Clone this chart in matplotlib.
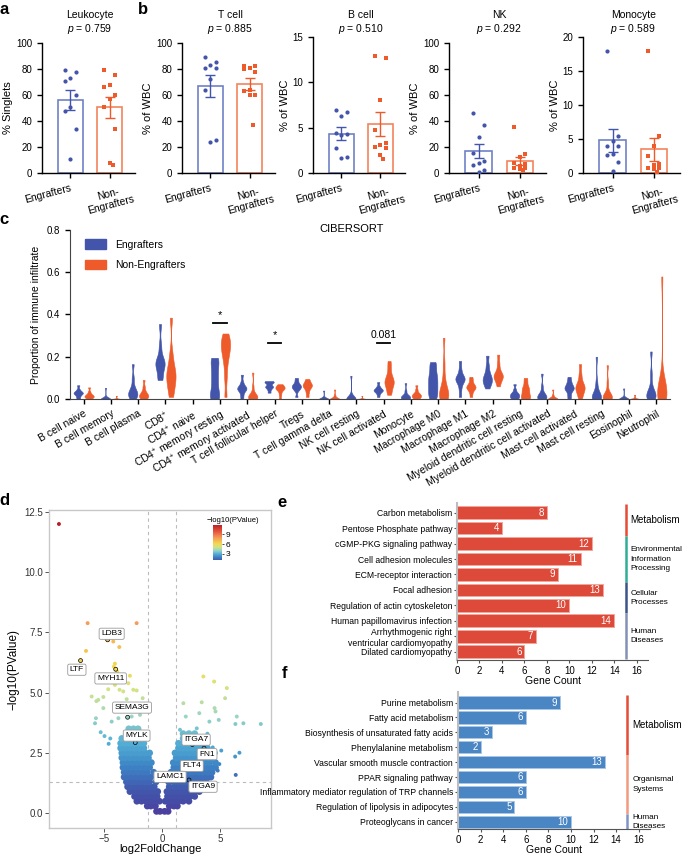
import numpy as np
import matplotlib
matplotlib.use("Agg")
import matplotlib.pyplot as plt
import matplotlib.transforms as mtransforms
from matplotlib.patches import Patch
from matplotlib.colors import LinearSegmentedColormap, Normalize

plt.rcParams['font.family'] = ['Liberation Sans', 'DejaVu Sans']
plt.rcParams['mathtext.fontset'] = 'custom'
plt.rcParams['mathtext.it'] = 'Liberation Sans:italic'
plt.rcParams['mathtext.rm'] = 'Liberation Sans'

BLUE = '#4255AA'
ORANGE = '#EE5A2A'
BLUE_EDGE = '#7181C6'
ORANGE_EDGE = '#F2845E'

# ---------------- a / b : flow cytometry ----------------
groups = ['Engrafters', 'Non-\nEngrafters']
leuko_eng = [79.5, 77.4, 72.8, 71.0, 60.0, 50.8, 47.4, 33.8, 11.0]
leuko_non = [79.5, 75.0, 68.0, 66.0, 60.0, 57.0, 50.5, 34.0, 8.0, 6.5]
tcell_eng = [89.0, 85.0, 83.0, 80.5, 80.5, 72.0, 63.5, 25.5, 23.5]
tcell_non = [82.0, 82.0, 81.0, 80.0, 78.0, 64.0, 63.0, 60.0, 60.0, 37.0]
bcell_eng = [7.0, 6.7, 6.3, 4.4, 4.3, 4.2, 2.8, 1.8, 1.7]
bcell_non = [12.9, 12.7, 8.0, 4.7, 3.3, 3.1, 2.9, 2.8, 2.0, 1.5]
nk_eng = [46.0, 37.0, 28.0, 15.0, 9.0, 7.5, 6.0, 2.5, 0.5]
nk_non = [35.0, 14.5, 12.5, 8.0, 7.0, 5.0, 4.0, 3.5, 3.0, 2.5]
mono_eng = [17.9, 5.4, 4.7, 4.0, 3.9, 2.8, 2.7, 1.6, 0.3]
mono_non = [18.0, 5.5, 3.9, 2.5, 1.3, 1.2, 0.8, 0.7, 0.6, 0.2]
flow_titles = ['Leukocyte', 'T cell', 'B cell', 'NK', 'Monocyte']
flow_pvals = ['0.759', '0.885', '0.510', '0.292', '0.589']
flow_ylabels = ['% Singlets', '% of WBC', '% of WBC', '% of WBC', '% of WBC']
flow_ymax = [100, 100, 15, 100, 20]
flow_ystep = [20, 20, 5, 20, 5]

# ---------------- c : CIBERSORT ----------------
cells = ['B cell naive', 'B cell memory', 'B cell plasma', 'CD8$^{+}$', 'CD4$^{+}$ naive',
         'CD4$^{+}$ memory resting', 'CD4$^{+}$ memory activated', 'T cell follicular helper',
         'Tregs', 'T cell gamma delta', 'NK cell resting', 'NK cell activated', 'Monocyte',
         'Macrophage M0', 'Macrophage M1', 'Macrophage M2', 'Myeloid dendritic cell resting',
         'Myeloid dendritic cell activated', 'Mast cell activated', 'Mast cell resting',
         'Eosinophil', 'Neutrophil']
cib_eng = [
    [0.0, 0.01, 0.02, 0.025, 0.03, 0.03, 0.035, 0.045, 0.065],
    [0.0, 0.0, 0.0, 0.0, 0.005, 0.0, 0.0, 0.01, 0.053],
    [0.0, 0.01, 0.02, 0.025, 0.03, 0.04, 0.06, 0.1, 0.165],
    [0.09, 0.1, 0.14, 0.16, 0.17, 0.175, 0.19, 0.25, 0.355],
    [],
    [0.0, 0.01, 0.03, 0.06, 0.09, 0.12, 0.15, 0.18, 0.195],
    [0.0, 0.02, 0.04, 0.045, 0.05, 0.055, 0.06, 0.08, 0.115],
    [0.03, 0.045, 0.055, 0.06, 0.06, 0.075, 0.08, 0.082, 0.085],
    [0.01, 0.04, 0.05, 0.055, 0.06, 0.065, 0.07, 0.085, 0.1],
    [0.0, 0.0, 0.0, 0.0, 0.0, 0.005, 0.0, 0.01, 0.04],
    [0.0, 0.0, 0.0, 0.0, 0.0, 0.0, 0.005, 0.02, 0.11],
    [0.01, 0.025, 0.035, 0.04, 0.04, 0.045, 0.05, 0.06, 0.08],
    [0.0, 0.0, 0.005, 0.01, 0.01, 0.015, 0.02, 0.04, 0.075],
    [0.0, 0.02, 0.04, 0.06, 0.08, 0.1, 0.12, 0.15, 0.175],
    [0.01, 0.05, 0.08, 0.09, 0.095, 0.1, 0.11, 0.14, 0.18],
    [0.05, 0.07, 0.08, 0.09, 0.1, 0.11, 0.13, 0.16, 0.205],
    [0.0, 0.005, 0.01, 0.015, 0.02, 0.025, 0.03, 0.045, 0.07],
    [0.0, 0.0, 0.005, 0.01, 0.015, 0.02, 0.03, 0.06, 0.12],
    [0.0, 0.02, 0.04, 0.05, 0.05, 0.06, 0.07, 0.085, 0.105],
    [0.0, 0.0, 0.005, 0.01, 0.01, 0.02, 0.04, 0.08, 0.2],
    [0.0, 0.0, 0.0, 0.0, 0.0, 0.0, 0.005, 0.01, 0.05],
    [0.0, 0.01, 0.015, 0.02, 0.02, 0.025, 0.06, 0.12, 0.225],
]
cib_non = [
    [0.0, 0.005, 0.01, 0.01, 0.015, 0.015, 0.02, 0.025, 0.035, 0.055],
    [0.0, 0.0, 0.0, 0.0, 0.0, 0.0, 0.0, 0.0, 0.005, 0.015],
    [0.0, 0.005, 0.01, 0.015, 0.02, 0.02, 0.03, 0.04, 0.06, 0.09],
    [0.01, 0.04, 0.07, 0.09, 0.11, 0.12, 0.14, 0.17, 0.22, 0.385],
    [],
    [0.01, 0.1, 0.16, 0.2, 0.22, 0.24, 0.26, 0.27, 0.29, 0.31],
    [0.0, 0.0, 0.005, 0.01, 0.01, 0.015, 0.02, 0.03, 0.06, 0.125],
    [0.0, 0.02, 0.035, 0.045, 0.05, 0.05, 0.055, 0.06, 0.065, 0.07],
    [0.01, 0.03, 0.045, 0.055, 0.06, 0.065, 0.07, 0.075, 0.085, 0.095],
    [0.0, 0.0, 0.0, 0.0, 0.0, 0.0, 0.005, 0.01, 0.02, 0.045],
    [0.0, 0.0, 0.0, 0.0, 0.0, 0.0, 0.0, 0.0, 0.005, 0.015],
    [0.02, 0.04, 0.06, 0.07, 0.08, 0.09, 0.1, 0.12, 0.15, 0.18],
    [0.0, 0.005, 0.01, 0.015, 0.015, 0.02, 0.025, 0.03, 0.045, 0.065],
    [0.0, 0.005, 0.01, 0.02, 0.03, 0.04, 0.06, 0.1, 0.17, 0.29],
    [0.01, 0.03, 0.045, 0.05, 0.055, 0.06, 0.065, 0.075, 0.09, 0.105],
    [0.06, 0.08, 0.095, 0.1, 0.11, 0.115, 0.12, 0.14, 0.17, 0.21],
    [0.0, 0.005, 0.01, 0.02, 0.03, 0.04, 0.05, 0.06, 0.08, 0.1],
    [0.0, 0.0, 0.0, 0.0, 0.0, 0.005, 0.005, 0.01, 0.02, 0.045],
    [0.0, 0.02, 0.035, 0.045, 0.055, 0.06, 0.07, 0.09, 0.12, 0.165],
    [0.0, 0.0, 0.005, 0.01, 0.01, 0.015, 0.02, 0.04, 0.08, 0.16],
    [0.0, 0.0, 0.0, 0.0, 0.0, 0.0, 0.0, 0.005, 0.01, 0.02],
    [0.0, 0.01, 0.02, 0.025, 0.03, 0.03, 0.035, 0.05, 0.1, 0.58],
]
sig_cells = [5, 7, 11]
sig_level = [0.362, 0.267, 0.267]
sig_text = ['*', '*', '0.081']

# ---------------- d : volcano ----------------
vol_x = [-8.94, -6.46, -2.22, -6.6, -4.24, -3.72, -4.1, -4.19, -3.9, -2.8, -2.94, -4.1,
         -4.68, -3.7, -3.38, -2.51, -2.22, -6.11, -5.54, -5.1, -3.08, -1.7, -5.1, -5.7,
         -5.74, -5.82, -5.33, -4.38, -3.8, -2.65, -1.93, -2.36, -2.07, -4.64, -4.5, -5.0,
         3.55, 4.48, 5.58, 5.43, 3.41, 1.82, 4.52, 4.6, 3.2, 2.03, 6.44, 7.01, 8.52, 6.32,
         4.88, 4.07, 2.98, 1.53, 6.67, 6.3, 6.35, 4.36, 4.93, 4.79, 5.1, 3.9]
vol_y = [11.99, 7.88, 7.88, 6.73, 7.12, 6.89, 6.2, 6.08, 5.88, 5.7, 5.39, 5.32,
         5.14, 5.12, 5.05, 5.12, 5.09, 4.84, 4.7, 4.82, 4.73, 4.77, 4.36, 4.65,
         3.94, 3.73, 3.36, 3.8, 3.94, 4.01, 4.08, 4.29, 3.52, 2.88, 3.1, 3.2,
         5.67, 5.46, 5.19, 4.77, 4.6, 4.56, 4.36, 4.22, 4.15, 4.01, 4.01, 3.73, 3.7, 3.7,
         3.87, 3.8, 3.52, 3.46, 2.51, 2.35, 1.59, 2.73, 2.04, 1.77, 2.6, 3.3]
core_levels = [0.08, 0.3, 0.5, 0.7, 0.9, 1.1, 1.3, 1.5, 1.7, 1.9, 2.1, 2.3, 2.5, 2.7, 2.9, 3.1, 3.3, 3.5]
core_rows = [
    [-0.5, -0.2, 0.2, 0.5],
    [-1.3, -1.0, -0.6, 0.6, 1.0, 1.3],
    [-2.2, -1.8, -1.4, -1.0, -0.6, -0.25, 0.25, 0.6, 1.0, 1.4, 1.8, 2.3],
    [-2.4, -2.0, -1.6, -1.2, -0.8, -0.45, 0.45, 0.8, 1.2, 1.6, 2.0, 2.4, 2.8],
    [-2.8, -2.4, -2.0, -1.6, -1.2, -0.8, -0.4, 0.4, 0.8, 1.2, 1.6, 2.0, 2.4, 2.8, 3.2],
    [-3.0, -2.7, -2.3, -1.9, -1.5, -1.1, -0.7, 0.6, 1.1, 1.5, 1.9, 2.3, 2.7, 3.1, 3.5],
    [-3.1, -2.7, -2.3, -1.9, -1.5, -1.1, -0.55, 0.55, 1.0, 1.4, 1.8, 2.2, 2.6, 3.0, 3.4, 3.8],
    [-3.3, -3.0, -2.6, -2.2, -1.8, -1.4, -1.0, 0.8, 1.2, 1.6, 2.0, 2.4, 2.8, 3.2, 3.6, 4.0, 4.2],
    [-3.3, -2.9, -2.5, -2.1, -1.7, -1.3, -0.75, 0.75, 1.1, 1.5, 1.9, 2.3, 2.7, 3.1, 3.5, 3.9, 4.3],
    [-3.4, -3.1, -2.7, -2.3, -1.9, -1.5, -1.1, 1.0, 1.4, 1.8, 2.2, 2.6, 3.0, 3.4, 3.8, 4.2, 4.6],
    [-3.4, -3.0, -2.6, -2.2, -1.8, -1.35, -0.95, 0.95, 1.3, 1.7, 2.1, 2.5, 2.9, 3.3, 3.7, 4.1, 4.6],
    [-3.5, -3.2, -2.8, -2.4, -2.0, -1.6, -1.2, 1.2, 1.6, 2.0, 2.4, 2.8, 3.2, 3.6, 4.0, 4.4],
    [-3.5, -3.1, -2.7, -2.3, -1.9, -1.5, -1.1, 1.1, 1.5, 1.9, 2.3, 2.7, 3.1, 3.5, 3.9, 4.5],
    [-3.6, -3.2, -2.8, -2.4, -2.0, -1.6, 1.4, 1.8, 2.2, 2.6, 3.0, 3.4, 3.9],
    [-3.6, -3.2, -2.8, -2.4, -2.0, -1.6, 1.4, 1.8, 2.2, 2.6, 3.0, 3.5],
    [-3.5, -3.1, -2.7, -2.3, -1.9, 1.8, 2.2, 2.6, 3.0, 3.4],
    [-3.1, -2.6, -2.1, 1.8, 2.3, 2.8],
    [-2.9, -2.5, -2.1],
]
genes = ['LDB3', 'LTF', 'MYH11', 'SEMA3G', 'MYLK', 'ITGA7', 'FN1', 'FLT4', 'LAMC1', 'ITGA9']
gene_x = [-4.73, -7.07, -4.03, -3.0, -2.34, 2.6, 3.61, 2.2, 1.6, 2.31]
gene_y = [7.19, 6.33, 5.97, 3.98, 2.93, 2.85, 2.7, 1.95, 1.45, 1.38]

# ---------------- e / f : KEGG ----------------
kegg_e_terms = ['Carbon metabolism', 'Pentose Phosphate pathway', 'cGMP-PKG signaling pathway',
                'Cell adhesion molecules', 'ECM-receptor interaction', 'Focal adhesion',
                'Regulation of actin cytoskeleton', 'Human papillomavirus infection',
                'Arrhythmogenic right\nventricular cardiomyopathy', 'Dilated cardiomyopathy']
kegg_e_counts = [8, 4, 12, 11, 9, 13, 10, 14, 7, 6]
kegg_e_classes = ['Metabolism', 'Environmental\nInformation\nProcessing', 'Cellular\nProcesses', 'Human\nDiseases']
kegg_e_sizes = [2, 3, 2, 3]
kegg_f_terms = ['Purine metabolism', 'Fatty acid metabolism', 'Biosynthesis of unsaturated fatty acids',
                'Phenylalanine metabolism', 'Vascular smooth muscle contraction', 'PPAR signaling pathway',
                'Inflammatory mediator regulation of TRP channels', 'Regulation of lipolysis in adipocytes',
                'Proteoglycans in cancer']
kegg_f_counts = [9, 6, 3, 2, 13, 6, 6, 5, 10]
kegg_f_classes = ['Metabolism', 'Organismal\nSystems', 'Human\nDiseases']
kegg_f_sizes = [4, 4, 1]

W, H = 685, 855
fig = plt.figure(figsize=(6.85, 8.55), dpi=100)


def px_axes(x0, y0, x1, y1):
    return fig.add_axes([x0 / W, 1 - y1 / H, (x1 - x0) / W, (y1 - y0) / H])


def fig_text(x, y, s, **kw):
    fig.text(x / W, 1 - y / H, s, **kw)


# ---- a, b
flow_eng = [leuko_eng, tcell_eng, bcell_eng, nk_eng, mono_eng]
flow_non = [leuko_non, tcell_non, bcell_non, nk_non, mono_non]
flow_boxes = [(42, 43, 135, 173), (182, 43, 275, 173), (313, 37, 405, 173),
              (449, 43, 546, 173), (583, 37, 680, 173)]
jitter = [-0.14, 0.14, 0.0, -0.14, 0.14, 0.0, -0.14, 0.14, 0.0, 0.07]

for n in range(5):
    ax = px_axes(*flow_boxes[n])
    for k, (vals, col, ecol, mk) in enumerate([(flow_eng[n], BLUE, BLUE_EDGE, 'o'),
                                               (flow_non[n], ORANGE, ORANGE_EDGE, 's')]):
        v = np.asarray(vals, float)
        m = v.mean()
        se = v.std(ddof=1) / np.sqrt(len(v))
        ax.bar(k, m, width=0.64, facecolor='white', edgecolor=ecol, linewidth=1.2, zorder=1)
        ax.errorbar(k, m, yerr=se, fmt='none', ecolor=col, elinewidth=1.0,
                    capsize=3.5, capthick=1.0, zorder=2)
        ax.scatter(k + np.array(jitter[:len(v)]), v, s=9, marker=mk, color=col,
                   linewidths=0, zorder=3)
    ax.set_xlim(-0.72, 1.64)
    ax.set_ylim(0, flow_ymax[n])
    ax.set_yticks(np.arange(0, flow_ymax[n] + 1, flow_ystep[n]))
    ax.set_xticks([0, 1])
    lbls = ax.set_xticklabels(groups, fontsize=7.5, rotation=15)
    lbls[0].set_ha('right')
    lbls[0].set_rotation_mode('anchor')
    lbls[1].set_ha('center')
    lbls[1].set_multialignment('center')
    ax.tick_params(labelsize=7, width=1, length=3.5)
    ax.tick_params(axis='x', labelsize=7.5)
    ax.set_ylabel(flow_ylabels[n], fontsize=8, labelpad=2)
    for s in ['top', 'right']:
        ax.spines[s].set_visible(False)
    for s in ['left', 'bottom']:
        ax.spines[s].set_linewidth(1)
    tr = mtransforms.blended_transform_factory(ax.transData, fig.transFigure)
    ax.text(0.5, 1 - 15 / H, flow_titles[n], transform=tr, ha='center', va='center', fontsize=7.5)
    ax.text(0.5, 1 - 29 / H, '$p$ = ' + flow_pvals[n], transform=tr, ha='center', va='center', fontsize=7.5)

# ---- c
axc = px_axes(70, 230, 670, 399)
for i in range(len(cells)):
    for vals, off, col in ((cib_eng[i], -0.2, BLUE), (cib_non[i], 0.2, ORANGE)):
        if len(vals) == 0 or np.ptp(vals) == 0:
            continue
        vp = axc.violinplot([vals], positions=[i + off], widths=0.34,
                            showextrema=False, bw_method=0.35)
        for b in vp['bodies']:
            b.set_facecolor(col)
            b.set_edgecolor(col)
            b.set_alpha(1)
            b.set_linewidth(0.4)
for i, lvl, txt in zip(sig_cells, sig_level, sig_text):
    axc.plot([i - 0.25, i + 0.25], [lvl, lvl], color='black', lw=1.3)
    axc.text(i, lvl + 0.012, txt, ha='center', va='bottom', fontsize=8 if txt == '*' else 7.5)
axc.set_xlim(-0.5, len(cells) - 0.5)
axc.set_ylim(0, 0.8)
axc.set_yticks([0, 0.2, 0.4, 0.6, 0.8])
axc.set_yticklabels(['0.0', '0.2', '0.4', '0.6', '0.8'])
axc.set_xticks(range(len(cells)))
axc.set_xticklabels(cells, rotation=30, ha='right', rotation_mode='anchor', fontsize=7.5)
axc.tick_params(labelsize=7, width=1, length=3.5)
axc.tick_params(axis='x', labelsize=7.5)
axc.set_ylabel('Proportion of immune infiltrate', fontsize=7.5, labelpad=4)
for s in ['top', 'right']:
    axc.spines[s].set_visible(False)
for s in ['left', 'bottom']:
    axc.spines[s].set_color('#444444')
axc.legend(handles=[Patch(color=BLUE, label='Engrafters'), Patch(color=ORANGE, label='Non-Engrafters')],
           loc='upper left', bbox_to_anchor=(0.01, 1.0), frameon=False, fontsize=7.5,
           handlelength=2.0, handleheight=1.0, labelspacing=1.0, handletextpad=0.9)
fig_text(352, 229, 'CIBERSORT', ha='center', va='center', fontsize=8)

# ---- d
cmap = LinearSegmentedColormap.from_list('vol', [
    (0.0, '#4B3F9E'), (0.083, '#4158AD'), (0.167, '#3D86C6'), (0.25, '#56B2D6'),
    (0.333, '#9AD4C4'), (0.417, '#CFE38A'), (0.5, '#F2DC52'), (0.583, '#F6BC50'),
    (0.667, '#F49A5A'), (0.833, '#E5533A'), (1.0, '#BA1E2A')])
norm = Normalize(0, 12)
axd = px_axes(49, 510, 271, 828)
core_x = np.concatenate([np.asarray(r, float) for r in core_rows])
core_y = np.concatenate([np.full(len(r), lv) for lv, r in zip(core_levels, core_rows)])
axd.axvline(-1.2, color='#BBBBBB', ls=(0, (3, 3)), lw=0.8, zorder=0)
axd.axvline(1.2, color='#BBBBBB', ls=(0, (3, 3)), lw=0.8, zorder=0)
axd.axhline(-np.log10(0.05), color='#BBBBBB', ls=(0, (3, 3)), lw=0.8, zorder=0)
axd.scatter(core_x, core_y, c=core_y, cmap=cmap, norm=norm, s=24, linewidths=0, zorder=2)
axd.scatter(vol_x, vol_y, c=vol_y, cmap=cmap, norm=norm, s=8, linewidths=0, zorder=3)
axd.scatter(gene_x, gene_y, c=gene_y, cmap=cmap, norm=norm, s=8, edgecolors='black',
            linewidths=0.5, zorder=4)
label_pos = [(-4.38, 7.44), (-7.39, 5.95), (-4.47, 5.59), (-2.62, 4.38), (-2.22, 3.22),
             (2.92, 3.05), (3.87, 2.45), (2.55, 1.96), (0.67, 1.51), (3.52, 1.10)]
for g, (lx, ly) in zip(genes, label_pos):
    axd.text(lx, ly, g, ha='center', va='center', fontsize=6, zorder=5,
             bbox=dict(boxstyle='round,pad=0.25,rounding_size=0.2', fc='white', ec='#9A9A9A', lw=0.6))
axd.set_xlim(-9.8, 9.4)
axd.set_ylim(-0.61, 12.57)
axd.set_xticks([-5, 0, 5])
axd.set_xticklabels(['\u22125', '0', '5'])
axd.set_yticks([0, 2.5, 5, 7.5, 10, 12.5])
axd.set_yticklabels(['0.0', '2.5', '5.0', '7.5', '10.0', '12.5'])
axd.tick_params(labelsize=7, color='#555555', labelcolor='#333333', length=3, width=0.7, pad=1.5)
for s in axd.spines.values():
    s.set_color('#C8C8C8')
    s.set_linewidth(1)
axd.set_xlabel('log2FoldChange', fontsize=8, labelpad=0)
axd.set_ylabel('\u2212log10(PValue)', fontsize=8.5, labelpad=3)
cax = px_axes(213, 525, 222, 560)
cax.imshow(np.linspace(1.05, 11.9, 256)[:, None], cmap=cmap, norm=norm, aspect='auto',
           origin='lower', extent=[0, 1, 1.05, 11.9])
cax.set_xticks([])
cax.yaxis.tick_right()
cax.set_yticks([3, 6, 9])
cax.tick_params(labelsize=6, length=1.5, width=0.5, pad=1)
for s in cax.spines.values():
    s.set_visible(False)
fig_text(207, 520, '\u2212log10(PValue)', ha='left', va='center', fontsize=5.5)


# ---- e, f
def kegg_panel(ax, terms, counts, classes, sizes, bar_col, bar_edge, class_cols, ylim, class_top):
    y = np.arange(len(terms))
    ax.barh(y, counts, height=0.82, color=bar_col, edgecolor=bar_edge, linewidth=0.7)
    for yi, c in zip(y, counts):
        ax.text(c - 0.25, yi, str(c), ha='right', va='center', color='white', fontsize=7)
    ax.set_ylim(*ylim)
    ax.set_xlim(0, 17)
    ax.set_xticks(range(0, 17, 2))
    ax.set_yticks(y)
    ax.set_yticklabels(terms, fontsize=6.2, linespacing=1.3)
    ax.tick_params(axis='x', labelsize=7, length=2.5, width=0.8, color='#555555', pad=1.5)
    ax.tick_params(axis='y', length=2.5, width=0.8, color='#555555', pad=1)
    ax.set_xlabel('Gene Count', fontsize=7.5, labelpad=0)
    for s in ['top', 'right']:
        ax.spines[s].set_visible(False)
    ax.spines['left'].set_color('#BDBDBD')
    ax.spines['left'].set_linewidth(1.5)
    ax.spines['bottom'].set_color('#555555')
    start = class_top
    for cls, size, col in zip(classes, sizes, class_cols):
        end = start + size if start != class_top else size - 0.5
        ax.plot([15, 15], [start, end], color=col, lw=1.8, solid_capstyle='butt', clip_on=False)
        fs = 7.0 if cls == 'Metabolism' else 5.9
        ax.text(15.45, (start + end) / 2, cls, ha='left', va='center', fontsize=fs,
                linespacing=1.45, clip_on=False)
        start = end


axe = px_axes(457, 503, 648, 660)
kegg_panel(axe, kegg_e_terms, kegg_e_counts, kegg_e_classes, kegg_e_sizes, '#DE4A3A', '#F2A79C',
           ['#E64B35', '#2FAE95', '#3C5488', '#8491B4'], (9.54, -0.63), -0.55)
axf = px_axes(458, 692, 650, 829)
kegg_panel(axf, kegg_f_terms, kegg_f_counts, kegg_f_classes, kegg_f_sizes, '#4A85C4', '#A9C6E6',
           ['#E64B35', '#F39B7F', '#7E94C8'], (8.49, -0.71), -0.49)

# panel letters
for letter, (x, y) in zip('abcdef', [(4, 9), (143, 9), (4, 219), (4, 500), (282, 502), (284, 673)]):
    fig_text(x, y, letter, ha='center', va='center', fontsize=12, fontweight='bold')

fig.savefig('out.png', dpi=100)
